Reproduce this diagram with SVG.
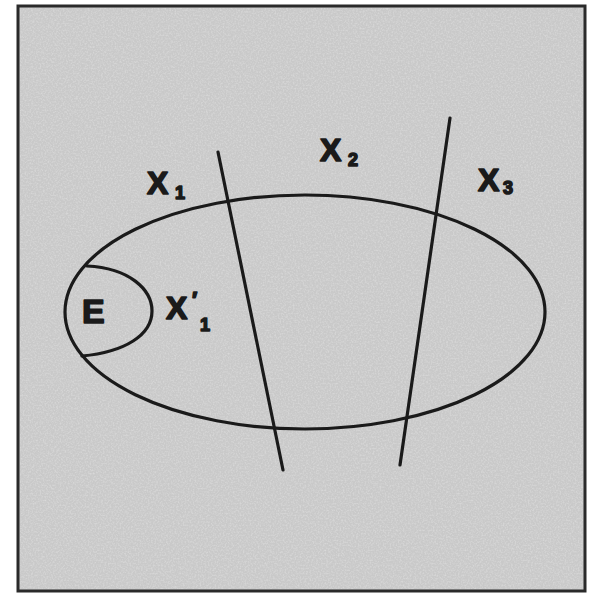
<svg xmlns="http://www.w3.org/2000/svg" width="597" height="604" viewBox="0 0 597 604">
<defs>
<filter id="grain" x="0" y="0" width="100%" height="100%">
<feTurbulence type="fractalNoise" baseFrequency="0.6" numOctaves="2" seed="3" result="n"/>
<feColorMatrix in="n" type="matrix" values="0 0 0 0 0.78  0 0 0 0 0.78  0 0 0 0 0.78  0 0 0 1.4 -0.55" result="c"/>
<feComposite in="c" in2="SourceGraphic" operator="in"/>
</filter>
<style>
.ln{fill:none;stroke:#1a1a1a;stroke-width:3.2;stroke-linecap:round}
.lbl{font-family:"Liberation Sans",Arial,sans-serif;font-weight:bold;fill:#1a1a1a;stroke:#1a1a1a;stroke-width:1.6;stroke-linejoin:round}
.big{font-size:32px}
.sub{font-size:18px}
</style>
</defs>
<rect width="597" height="604" fill="#ffffff"/>
<rect x="18" y="6" width="567" height="585" fill="#c9c9c9" stroke="#2a2a2a" stroke-width="3"/>
<rect x="20" y="8" width="563" height="581" fill="#d8d8d8" filter="url(#grain)" opacity="0.8"/>
<g id="connectors">
<line class="ln" x1="218" y1="152" x2="283" y2="470"/>
<line class="ln" x1="450" y1="118" x2="400" y2="465"/>
</g>
<g id="X">
<ellipse class="ln" cx="305" cy="312" rx="240" ry="117"/>
<text class="lbl big" x="147" y="194">X</text>
<text class="lbl sub" x="175" y="199">1</text>
</g>
<g id="X2">
<text class="lbl big" x="320" y="161">X</text>
<text class="lbl sub" x="348" y="166">2</text>
</g>
<g id="X3">
<text class="lbl big" x="478" y="191">X</text>
<text class="lbl sub" x="503" y="194">3</text>
</g>
<g id="E">
<path class="ln" d="M87,266 C130,268 152,290 152,311 C152,335 125,352 82,356"/>
<text class="lbl" x="82" y="323" style="font-size:34px">E</text>
</g>
<g id="X1p">
<text class="lbl big" x="166" y="319">X</text>
<text class="lbl" x="192" y="307" style="font-size:22px">′</text>
<text class="lbl sub" x="200" y="331">1</text>
</g>
</svg>
